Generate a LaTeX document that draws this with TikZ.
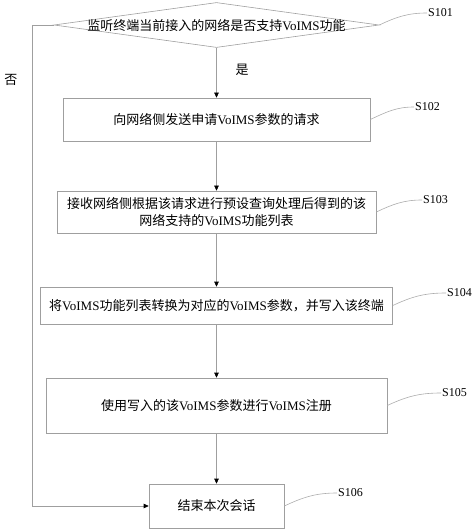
\documentclass[tikz,border=0pt]{standalone}
\usepackage{fontspec}
\setmainfont{Liberation Serif}
\newfontfamily\cjk{Noto Sans CJK SC}
\usetikzlibrary{arrows.meta, positioning, shapes.geometric}

\newcommand{\zh}[1]{{\cjk #1}}

\begin{document}
\begin{tikzpicture}[
    x=1pt, y=-1pt,
    % --- Styles ---
    flow line/.style={draw=gray!75, line width=0.6pt},
    flow arrow/.style={flow line, -{Triangle[length=5pt, width=4.5pt, color=black]}},
    step font/.style={font=\fontsize{13}{17}\selectfont},
    stepbox/.style={draw=gray!75, line width=0.6pt, align=center, inner sep=0pt, step font},
    decision/.style={diamond, draw=gray!75, line width=0.6pt, inner sep=0pt, minimum width=325pt, minimum height=45pt},
    step tag/.style={anchor=west, inner sep=1pt, font=\fontsize{12}{14}\selectfont},
    tag line/.style={draw=gray!65, line width=0.6pt},
    branch label/.style={font=\fontsize{13}{15}\selectfont\cjk}
]
    \useasboundingbox (0,0) rectangle (474,529);

    %% --- Steps ---
    \node[decision, label={[step font]center:\zh{监听终端当前接入的网络是否支持}VoIMS\zh{功能}}]
        (s101) at (216.5,25) {};
    \node[stepbox, minimum width=307pt, minimum height=43pt] (s102) at (216.5,119.5)
        {\zh{向网络侧发送申请}VoIMS\zh{参数的请求}};
    \node[stepbox, minimum width=319pt, minimum height=42pt] (s103) at (216.5,212)
        {\zh{接收网络侧根据该请求进行预设查询处理后得到的该}\\\zh{网络支持的}VoIMS\zh{功能列表}};
    \node[stepbox, minimum width=352pt, minimum height=37pt] (s104) at (216.5,305.5)
        {\zh{将}VoIMS\zh{功能列表转换为对应的}VoIMS\zh{参数，并写入该终端}};
    \node[stepbox, minimum width=341pt, minimum height=55pt] (s105) at (216.5,405.5)
        {\zh{使用写入的该}VoIMS\zh{参数进行}VoIMS\zh{注册}};
    \node[stepbox, minimum width=135pt, minimum height=44pt] (s106) at (216.5,506)
        {\zh{结束本次会话}};

    %% --- Main flow ---
    \draw[flow arrow] (s101.south) -- (s102.north);
    \draw[flow arrow] (s102.south) -- (s103.north);
    \draw[flow arrow] (s103.south) -- (s104.north);
    \draw[flow arrow] (s104.south) -- (s105.north);
    \draw[flow arrow] (s105.south) -- (s106.north);
    \node[branch label] (yes) at (242,70) {是};

    %% --- "No" branch ---
    \coordinate (noturn) at (32,25);
    \draw[flow arrow] (s101.west) -- (noturn) |- (s106.west);
    \node[branch label] (no) at (11,80) {否};

    %% --- Step tags ---
    \node[step tag] (t101) at (427,13) {S101};
    \node[step tag] (t102) at (414,107) {S102};
    \node[step tag] (t103) at (422,200) {S103};
    \node[step tag] (t104) at (446,293) {S104};
    \node[step tag] (t105) at (441,393) {S105};
    \node[step tag] (t106) at (337,493) {S106};
    \foreach \n in {101,102,103,104,105,106}
        \draw[tag line] (s\n.east) to[out=25, in=180] (t\n.west);
\end{tikzpicture}
\end{document}
